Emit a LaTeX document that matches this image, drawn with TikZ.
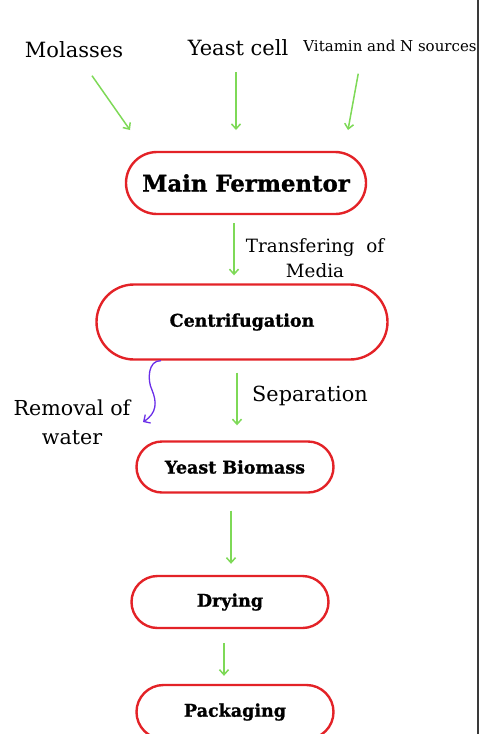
\documentclass[tikz,border=0pt]{standalone}
\usepackage{fontspec}
\setmainfont{DejaVu Serif}
\newfontfamily\heavyfont{DejaVu Serif Bold}[FakeBold=1.2]
\usepackage{tikz}
\usetikzlibrary{
  arrows.meta,
  shapes.misc,
  positioning,
  calc
}
\definecolor{ysGreen}{HTML}{7ED957}
\definecolor{ysRed}{HTML}{E32227}
\definecolor{ysPurple}{HTML}{6A2EE8}
\definecolor{ysEdge}{HTML}{3A3A3A}
\tikzset{
  ysnode/.style={
    draw=ysRed, rounded rectangle, line width=2.4pt, inner sep=0pt,
    align=center, font=\heavyfont\fontsize{17.5}{21}\selectfont
  },
  yslabel/.style={font=\fontsize{21}{27}\selectfont, align=center, inner sep=1pt},
  yssmall/.style={yslabel, font=\fontsize{15}{18}\selectfont},
  ysflow/.style={-{Straight Barb[length=5pt, width=9pt]}, line width=1.5pt, ysGreen},
  ysdrain/.style={-{Straight Barb[length=5pt, width=10pt]}, line width=1.3pt, ysPurple},
  ysframe/.style={line width=1.6pt, ysEdge}
}
\begin{document}
\begin{tikzpicture}[x=1pt, y=1pt]
  \useasboundingbox (0,0) rectangle (480,-734);
  % inputs
  \node[yslabel] (mol) at (74,-50) {Molasses};
  \node[yslabel] (yst) at (238,-48) {Yeast cell};
  \node[yssmall] (vit) at (390,-46) {Vitamin and N sources};
  \coordinate (molIn) at (130,-130);
  \coordinate (ystIn) at (236,-130);
  \coordinate (vitIn) at (348,-130);
  % process steps
  \node[ysnode, minimum width=240pt, minimum height=62pt, font=\heavyfont\fontsize{22.8}{26}\selectfont] (main) at (246,-183) {Main Fermentor};
  \node[ysnode, minimum width=291pt, minimum height=75pt] (cen) at (242,-322) {Centrifugation};
  \node[ysnode, minimum width=197pt, minimum height=51pt] (bio) at (235,-467) {Yeast Biomass};
  \node[ysnode, minimum width=197pt, minimum height=52pt] (dry) at (230,-602) {Drying};
  \node[ysnode, minimum width=197pt, minimum height=54pt] (pack) at (235,-712) {Packaging};
  % side labels
  \node[yslabel, font=\fontsize{18.3}{25}\selectfont] (tra) at (315,-258) {Transfering~ of\\Media};
  \node[yslabel, font=\fontsize{20.8}{25}\selectfont] (sep) at (310,-396) {Separation};
  \node[yslabel, font=\fontsize{20.6}{29}\selectfont] (wat) at (72,-422) {Removal of\\water};
  \coordinate (watOut) at (143,-422);
  % connectors
  \draw[ysflow, shorten <=20pt] (mol) -- (molIn);
  \draw[ysflow, shorten <=15pt] (yst.south -| ystIn) -- (ystIn);
  \draw[ysflow, shorten <=21pt] ([xshift=-28pt]vit.south) -- (vitIn);
  \draw[ysflow, shorten <=8pt, shorten >=8pt] ([xshift=-12pt]main.south) -- ([xshift=-8pt]cen.north);
  \draw[ysflow, shorten <=12pt, shorten >=15pt] ([xshift=-5pt]cen.south) -- ([xshift=2pt]bio.north);
  \draw[ysflow, shorten <=17pt, shorten >=11pt] ([xshift=-4pt]bio.south) -- ([xshift=1pt]dry.north);
  \draw[ysflow, shorten <=14pt, shorten >=8pt] ([xshift=-6pt]dry.south) -- ([xshift=-11pt]pack.north);
  \draw[ysdrain] ([xshift=-81pt]cen.south) .. controls (148,-360) and (147,-380) .. (152,-390)
    .. controls (157,-402) and (157,-413) .. (watOut);
  % page edge
  \draw[ysframe] (478,0) -- (478,-734);
\end{tikzpicture}
\end{document}
